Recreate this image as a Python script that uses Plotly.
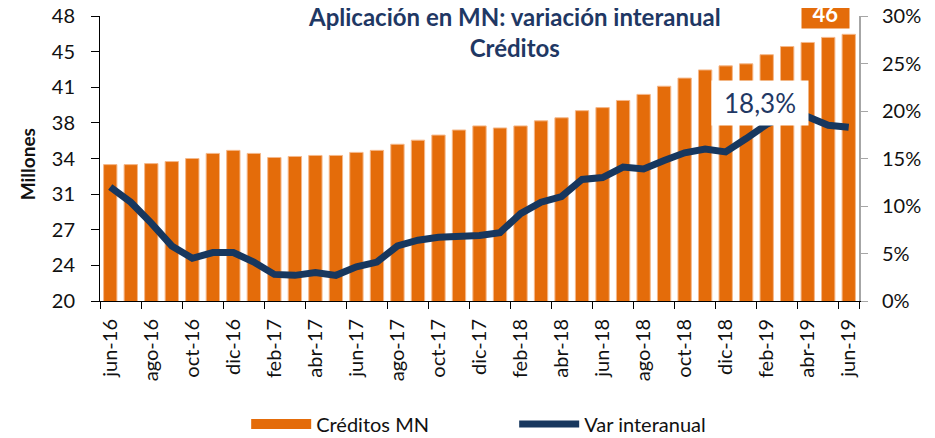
import plotly.graph_objects as go

months = ["jun-16","jul-16","ago-16","sep-16","oct-16","nov-16","dic-16",
          "ene-17","feb-17","mar-17","abr-17","may-17","jun-17","jul-17","ago-17","sep-17","oct-17","nov-17","dic-17",
          "ene-18","feb-18","mar-18","abr-18","may-18","jun-18","jul-18","ago-18","sep-18","oct-18","nov-18","dic-18",
          "ene-19","feb-19","mar-19","abr-19","may-19","jun-19"]

creditos_mn = [33.4, 33.4, 33.5, 33.7, 34.0, 34.5, 34.8,
               34.5, 34.1, 34.2, 34.3, 34.3, 34.6, 34.8, 35.4, 35.8, 36.3, 36.8, 37.2,
               37.0, 37.2, 37.7, 38.0, 38.7, 39.0, 39.7, 40.3, 41.1, 41.9, 42.7, 43.1,
               43.3, 44.2, 45.0, 45.4, 45.9, 46.2]

var_interanual = [12.0, 10.4, 8.2, 5.8, 4.5, 5.1, 5.1,
                  4.1, 2.8, 2.7, 3.0, 2.7, 3.6, 4.1, 5.8, 6.4, 6.7, 6.8, 6.9,
                  7.2, 9.2, 10.4, 11.0, 12.8, 13.0, 14.1, 13.9, 14.8, 15.6, 16.0, 15.7,
                  17.1, 18.6, 19.6, 19.4, 18.5, 18.3]

left_tick_values = [20, 23.5, 27, 30.5, 34, 37.5, 41, 44.5, 48]
left_tick_labels = ["20", "24", "27", "31", "34", "38", "41", "45", "48"]
right_tick_values = [0, 5, 10, 15, 20, 25, 30]
right_tick_labels = ["0%", "5%", "10%", "15%", "20%", "25%", "30%"]

title_line1 = "Aplicación en MN: variación interanual"
title_line2 = "Créditos"
last_value_label = "46"
last_var_label = "18,3%"

ORANGE = "#E46C0A"
NAVY = "#17375E"
TITLE_NAVY = "#1F3864"
FONT = "Lato, 'Open Sans', sans-serif"

fig = go.Figure()
fig.add_trace(go.Bar(
    x=months, y=creditos_mn, name="Créditos MN", showlegend=False,
    marker=dict(color=ORANGE, line=dict(color="#F5B88A", width=1)),
    width=0.65, yaxis="y",
))
# legend proxy so the legend key is a wide orange block like the reference
fig.add_trace(go.Scatter(
    x=[None], y=[None], name="Créditos MN", mode="lines",
    line=dict(color=ORANGE, width=13), yaxis="y", hoverinfo="skip",
))
fig.add_trace(go.Scatter(
    x=months, y=var_interanual, name="Var interanual", mode="lines",
    line=dict(color=NAVY, width=7), yaxis="y2",
))

# page body adds an 8px offset, so the figure is 927x430 and sits at (8, 8)
fig.update_layout(
    width=927, height=430,
    margin=dict(l=92, r=76, t=8, b=137, autoexpand=False),
    paper_bgcolor="white", plot_bgcolor="rgba(0,0,0,0)",
    font=dict(family=FONT, color="#111111", size=19),
    showlegend=True,
    legend=dict(orientation="h", x=0.1926, y=-0.4316, xanchor="left", yanchor="middle",
                font=dict(size=20, color="#111111"), itemwidth=60,
                entrywidth=193, entrywidthmode="pixels", tracegroupgap=0,
                bgcolor="rgba(0,0,0,0)"),
    xaxis=dict(type="category", range=[-0.5, 36.5], tickson="boundaries",
               tickmode="array", tickvals=months[::2], ticktext=months[::2],
               tickangle=-90, ticks="outside", ticklen=7, tickcolor="#000000",
               showline=True, linecolor="#000000", linewidth=1, showgrid=False,
               tickfont=dict(size=20, color="#111111"), ticklabelstandoff=9,
               automargin=False),
    yaxis=dict(range=[20, 48], tickmode="array", tickvals=left_tick_values, ticktext=left_tick_labels,
               ticks="outside", ticklen=8, tickcolor="#000000", showline=True,
               linecolor="#000000", linewidth=1, showgrid=False, zeroline=False,
               tickfont=dict(size=20, color="#111111"), ticklabelstandoff=12,
               ticklabeloverflow="allow", automargin=False),
    yaxis2=dict(range=[0, 30], overlaying="y", side="right", tickmode="array",
                tickvals=right_tick_values, ticktext=right_tick_labels,
                ticks="outside", ticklen=7, tickcolor="#A6A6A6", showline=True,
                linecolor="#A6A6A6", linewidth=2, showgrid=False, zeroline=False,
                tickfont=dict(size=20, color="#111111"), ticklabelstandoff=10,
                ticklabeloverflow="allow", automargin=False),
)

annotations = [
    dict(text="<b>" + title_line1 + "<br>" + title_line2 + "</b>", x=0.5455, y=1.0561,
         xref="paper", yref="paper", xanchor="center", yanchor="top", align="center",
         showarrow=False, font=dict(size=24, color=TITLE_NAVY, family=FONT)),
    dict(text="<b>Millones</b>", x=-0.096, y=0.48, xref="paper", yref="paper",
         textangle=-90, xanchor="center", yanchor="middle", showarrow=False,
         font=dict(size=19, color="#111111", family=FONT)),
    dict(text="<b>" + last_value_label + "</b>", x=0.9565, y=1.0088, xref="paper", yref="paper",
         xanchor="center", yanchor="middle", showarrow=False, bgcolor=ORANGE,
         width=45, height=27, font=dict(size=22, color="white", family=FONT)),
    dict(text=last_var_label, x=0.8696, y=0.695, xref="paper", yref="paper",
         xanchor="center", yanchor="middle", showarrow=False, bgcolor="white",
         width=94, height=42, font=dict(size=26, color=TITLE_NAVY, family=FONT)),
]
fig.update_layout(annotations=annotations)

fig.write_html("out.html")
